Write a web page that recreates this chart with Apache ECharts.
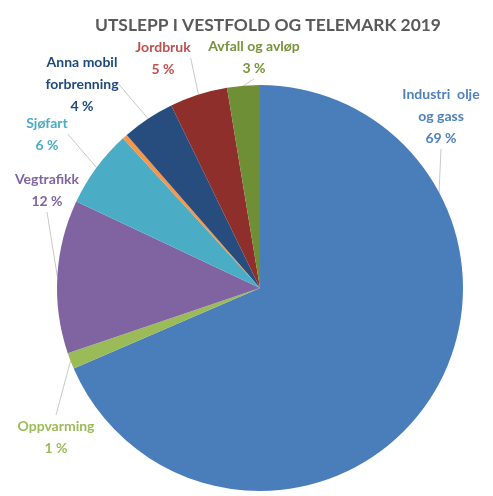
<!DOCTYPE html>
<html>
<head>
<meta charset="utf-8">
<script src="https://cdn.jsdelivr.net/npm/echarts@6/dist/echarts.min.js"></script>
<style>
  html, body { margin: 0; padding: 0; background: #fff; }
  #chart { width: 493px; height: 496px; }
</style>
</head>
<body>
<div id="chart"></div>
<script>
// kategorier og verdier (prosent)
const categories = ['Industri  olje\nog gass', 'Oppvarming', 'Vegtrafikk', 'Sjøfart', 'Annet', 'Anna mobil\nforbrenning', 'Jordbruk', 'Avfall og avløp']
const values = [68.5, 1.3, 12.2, 6.2, 0.4, 4.2, 4.6, 2.6]
const sliceColors = ['#4a7ebb', '#9bbb59', '#8064a2', '#4bacc6', '#f79646', '#264d7e', '#8e2f2c', '#6e8f35']
const labelColors = ['#4f81bd', '#9bbb59', '#8064a2', '#4bacc6', '#f79646', '#1f497d', '#c0504d', '#77933c']
const hiddenLabel = ['Annet']

// hvor etikettene står
const labelPos = [[441, 116], [56, 437], [47, 190], [47, 134], null, [82, 84], [163, 58], [254, 57]]

const chart = echarts.init(document.getElementById('chart'))
chart.setOption({
  animation: false,
  title: {
    text: 'UTSLEPP I VESTFOLD OG TELEMARK 2019',
    left: 263,
    top: 12,
    textAlign: 'center',
    textStyle: { fontFamily: 'Lato', fontSize: 17.4, fontWeight: 'bold', color: '#595959' },
  },
  series: [
    {
      type: 'pie',
      center: [260, 288],
      radius: 203,
      startAngle: 90,
      clockwise: true,
      data: categories.map((name, i) => {
        const hide = hiddenLabel.includes(name)
        return {
          name,
          value: values[i],
          itemStyle: { color: sliceColors[i] },
          label: { show: !hide, color: labelColors[i] },
          labelLine: { show: !hide },
        }
      }),
      label: {
        position: 'outside',
        formatter: (p) => p.name + '\n' + Math.round(p.value) + ' %',
        fontFamily: 'Lato',
        fontSize: 14,
        fontWeight: 'bold',
        lineHeight: 22,
        align: 'center',
        overflow: 'none',
      },
      labelLine: {
        show: true,
        length: 10,
        length2: 0,
        lineStyle: { color: '#c8c8c8', width: 1 },
      },
      labelLayout: (params) => {
        const pos = labelPos[params.dataIndex]
        if (!pos) return {}
        return { x: pos[0], y: pos[1], align: 'center', verticalAlign: 'middle' }
      },
    },
  ],
})
</script>
</body>
</html>
